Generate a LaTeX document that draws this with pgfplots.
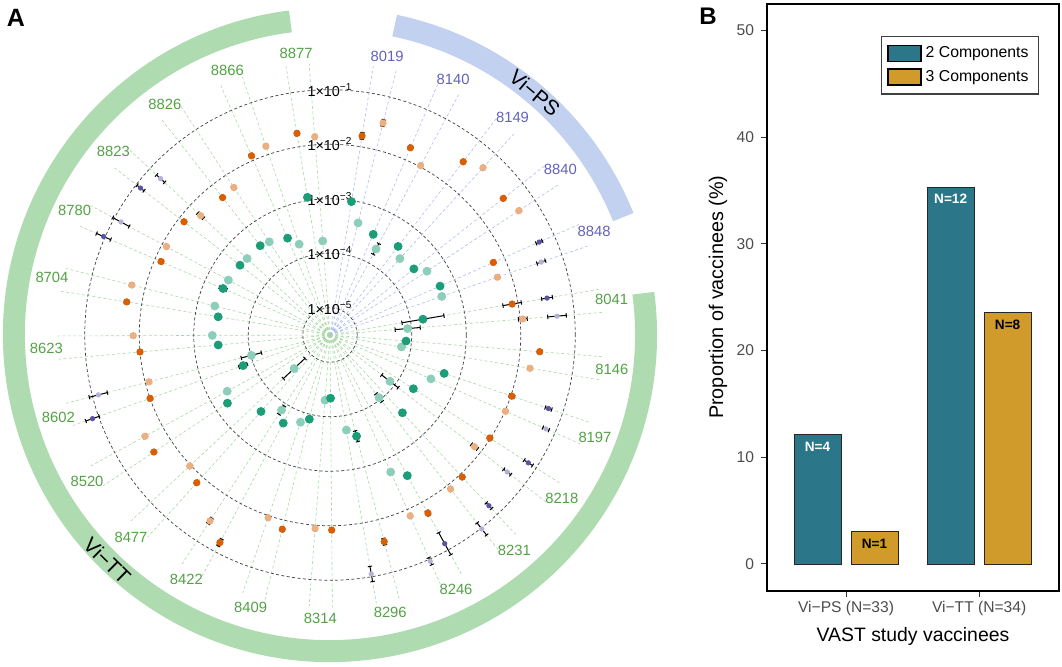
\documentclass[border=0pt]{standalone}
\usepackage{fontspec}
\setmainfont{Liberation Sans}
\usepackage{pgfplots}
\usepackage{pgfplotstable}
\pgfplotsset{compat=1.18}
\usepgfplotslibrary{polar}
\usetikzlibrary{arrows.meta}

\definecolor{grnD}{HTML}{1B9E77}
\definecolor{grnL}{HTML}{8DCEBB}
\definecolor{orD}{HTML}{D95F02}
\definecolor{orL}{HTML}{ECAF80}
\definecolor{puD}{HTML}{5A55A0}
\definecolor{puL}{HTML}{B4B1D6}
\definecolor{spTT}{HTML}{A8D7A4}
\definecolor{spPS}{HTML}{AEBDE9}
\definecolor{labTT}{HTML}{52A145}
\definecolor{labPS}{HTML}{6262B8}
\definecolor{arcTT}{HTML}{AEDBB0}
\definecolor{arcPS}{HTML}{C1D1EF}
\definecolor{barA}{HTML}{2B7689}
\definecolor{barB}{HTML}{D19B2B}

% log10 of each value; A = first spoke of a subject, B = second spoke
\pgfplotstableread{
id   t       gA     gAe   gB     gBe   oA     oAe   oB     oBe   pA     pAe   pB     pBe
8019 78.4    -3.02  0.05  -3.38  0.05  -1.80  0.07  -1.49  0.07  nan    0     nan    0
8140 64.3    -3.49  0.05  -3.71  0.12  -1.76  0.05  -1.975 0.05  nan    0     nan    0
8149 50.0    -3.45  0.05  -3.60  0.05  -1.49  0.05  -1.34  0.05  nan    0     nan    0
8840 35.8    -3.54  0.05  -3.37  0.05  -1.45  0.05  -1.35  0.05  nan    0     nan    0
8848 21.5    -3.29  0.05  -3.33  0.05  -2.22  0.05  -2.25  0.05  -1.30  0.07  -1.40  0.09
}\tabPS

\pgfplotstableread{
id   t       gA     gAe   gB     gBe   oA     oAe   oB     oBe   pA     pAe   pB     pBe
8041 7.2     -3.77  0.40  -4.07  0.24  -2.11  0.18  -1.95  0.09  -1.46  0.11  -1.32  0.18
8146 -7.0    -4.10  0.05  -4.17  0.05  -1.64  0.05  -1.78  0.05  nan    0     nan    0
8197 -21.05  -3.29  0.05  -3.48  0.05  -1.98  0.06  -1.99  0.05  -1.27  0.07  -1.18  0.07
8218 -35.25  -3.68  0.05  -4.11  0.20  -2.01  0.05  -2.15  0.08  -1.17  0.10  -1.39  0.09
8231 -49.5   -3.55  0.05  -4.04  0.10  -1.94  0.05  -1.91  0.05  -1.22  0.08  -0.98  0.15
8246 -63.65  -2.555 0.05  -2.75  0.05  -1.77  0.06  -1.87  0.05  -1.13  0.24  -0.96  0.08
8296 -77.75  -3.58  0.11  -3.73  0.05  -1.58  0.07  nan    0     nan    0     -1.05  0.15
8314 -91.95  -4.34  0.05  -4.30  0.05  -1.92  0.05  -1.94  0.05  nan    0     nan    0
8409 -106.25 -3.91  0.05  -3.81  0.05  -1.83  0.05  -1.96  0.05  nan    0     nan    0
8422 -120.4  -3.67  0.05  -3.86  0.10  -1.19  0.08  -1.44  0.07  nan    0     nan    0
8477 -134.5  -3.61  0.05  -4.60  0.28  -1.85  0.05  -1.98  0.05  nan    0     nan    0
8520 -148.85 -3.24  0.05  -3.35  0.05  -1.62  0.05  -1.63  0.05  nan    0     nan    0
8602 -163.05 -3.81  0.09  -4.01  0.20  -2.00  0.05  -2.07  0.05  -0.88  0.14  -1.11  0.18
8623 -177.35 -3.44  0.05  -3.34  0.05  -2.00  0.05  -1.89  0.05  nan    0     nan    0
8704 168.3   -3.42  0.05  -3.32  0.05  -1.72  0.05  -1.75  0.05  nan    0     nan    0
8780 154.05  -3.36  0.08  -3.38  0.05  -2.12  0.05  -2.09  0.05  -0.97  0.15  -1.14  0.18
8823 139.75  -3.41  0.05  -3.43  0.05  -2.11  0.05  -2.27  0.08  -1.10  0.09  -1.27  0.11
8826 125.55  -3.42  0.05  -3.46  0.05  -2.30  0.05  -2.27  0.05  nan    0     nan    0
8866 111.2   -3.56  0.05  -3.74  0.05  -1.91  0.05  -1.84  0.05  nan    0     nan    0
8877 96.85   -2.94  0.05  -3.77  0.05  -1.75  0.05  -1.85  0.05  nan    0     nan    0
}\tabTT

\pgfplotsset{
  dot/.style n args={2}{only marks, mark=*, mark size=#2, color=#1},
  bar/.style={mark=none, draw=#1, line width=0.5pt, {Bar[width=2.2pt]}-{Bar[width=2.2pt]}},
}

% point, then its radial error bar (quiver from value-err to value+err)
\newcommand\comp[5]{% table, angle shift, column, colour, size, bar colour in \barc
  \addplot[dot={#4}{#5}] table[x expr=\thisrow{t}+#2, y expr=\thisrow{#3}+5.5]{#1};
  \addplot[bar=\barc, quiver={u=0, v=2*\thisrow{#3e}}]
    table[x expr=\thisrow{t}+#2, y expr=\thisrow{#3}+5.5-\thisrow{#3e}]{#1};
}
\newcommand\subjects[1]{%
  \def\barc{black!50}\comp{#1}{-2.45}{gB}{grnL}{2.0pt}
  \def\barc{black}\comp{#1}{2.45}{gA}{grnD}{2.0pt}
  \def\barc{black!50}\comp{#1}{-2.45}{oB}{orL}{1.6pt}
  \def\barc{black}\comp{#1}{2.45}{oA}{orD}{1.6pt}
  \def\barc{black!50}\comp{#1}{-2.45}{pB}{puL}{1.1pt}
  \def\barc{black}\comp{#1}{2.45}{pA}{puD}{1.1pt}
}

\begin{document}
\begin{tikzpicture}
\path[use as bounding box] (0,0) rectangle (531pt,333pt);

% ---------- panel A ----------
\begin{polaraxis}[
  at={(165pt,165.5pt)}, anchor=origin,
  scale only axis, width=272.5pt, height=272.5pt,
  ymin=0, ymax=5,
  % spokes: two per subject (Vi-TT as major, Vi-PS as minor grid)
  xtick={9.65,4.75,355.45,350.55,341.4,336.5,327.2,322.3,312.95,308.05,298.8,293.9,
    284.7,279.8,270.5,265.6,256.2,251.3,242.05,237.15,227.95,223.05,213.6,208.7,
    199.4,194.5,185.1,180.2,170.75,165.85,156.5,151.6,142.2,137.3,128.0,123.1,
    113.65,108.75,99.3,94.4},
  minor xtick={80.85,75.95,66.75,61.85,52.45,47.55,38.25,33.35,23.95,19.05},
  xticklabels={}, xmajorgrids, xminorgrids,
  x grid style={spTT, line width=0.3pt, dash pattern=on 1.5pt off 1.2pt},
  minor x grid style={spPS, line width=0.3pt, dash pattern=on 1.5pt off 1.2pt},
  ytick={0.5,1.5,2.5,3.5,4.5}, yticklabels={}, yminorgrids=false,
  ymajorgrids, y grid style={black!75, line width=0.35pt, dash pattern=on 1.5pt off 1.2pt},
  axis line style={draw=none}, major tick style={draw=none}, minor tick style={draw=none},
  clip=false,
]
% subject labels
\addplot[draw=none, mark=none, nodes near coords, point meta=explicit symbolic,
  every node near coord/.style={anchor=center, text=labTT, font=\fontsize{7.4}{8}\selectfont}]
  table[x=t, y expr=5.21, meta=id]{\tabTT};
\addplot[draw=none, mark=none, nodes near coords, point meta=explicit symbolic,
  every node near coord/.style={anchor=center, text=labPS, font=\fontsize{7.4}{8}\selectfont}]
  table[x=t, y expr=5.21, meta=id]{\tabPS};
% points
\subjects{\tabPS}
\subjects{\tabTT}
% ring labels
\node[font=\fontsize{7.2}{8}\selectfont, inner sep=0pt] at (axis cs:90,0.5) {1×10\textsuperscript{−5}};
\node[font=\fontsize{7.2}{8}\selectfont, inner sep=0pt] at (axis cs:90,1.5) {1×10\textsuperscript{−4}};
\node[font=\fontsize{7.2}{8}\selectfont, inner sep=0pt] at (axis cs:90,2.5) {1×10\textsuperscript{−3}};
\node[font=\fontsize{7.2}{8}\selectfont, inner sep=0pt] at (axis cs:90,3.5) {1×10\textsuperscript{−2}};
\node[font=\fontsize{7.2}{8}\selectfont, inner sep=0pt] at (axis cs:90,4.5) {1×10\textsuperscript{−1}};
% group arcs
\draw[arcTT, line width=11pt] (axis cs:97.2,5.8) arc[start angle=97.2, end angle=367.6, radius=158.05pt];
\draw[arcPS, line width=11pt] (axis cs:21.9,5.8) arc[start angle=21.9, end angle=78.2, radius=158.05pt];
\node[font=\fontsize{10.5}{12}\selectfont, rotate=-40.2] at (axis cs:49.8,5.82) {Vi−PS};
\node[font=\fontsize{10.5}{12}\selectfont, rotate=-44.6] at (axis cs:225.4,5.82) {Vi−TT};
\end{polaraxis}

% ---------- panel B ----------
\begin{axis}[
  at={(383.5pt,37.7pt)}, anchor=south west,
  scale only axis, width=146pt, height=293.4pt,
  xmin=0.406, xmax=2.6, ymin=-2.5, ymax=52.5,
  xtick={1,2}, xticklabels={Vi−PS (N=33), Vi−TT (N=34)},
  ytick={0,10,20,30,40,50},
  tick pos=left, tick align=outside, major tick length=3pt,
  tick style={black!80, line width=0.5pt},
  axis line style={line width=1pt},
  /pgf/number format/assume math mode=true,
  ticklabel style={font=\fontsize{7.8}{9}\selectfont, text=black!70},
  xticklabel style={yshift=1.3pt},
  xlabel={VAST study vaccinees}, ylabel={Proportion of vaccinees (\%)},
  xlabel style={font=\fontsize{9.7}{11}\selectfont, at={(axis description cs:0.5,-0.0774)}, anchor=center},
  ylabel style={font=\fontsize{9.9}{11}\selectfont, at={(axis description cs:-0.168,0.5)}, anchor=center},
  legend style={at={(0.932,0.945)}, anchor=north east, draw=black!75, line width=0.7pt,
    font=\fontsize{7.9}{8}\selectfont, row sep=0.6pt, inner xsep=3pt, inner ysep=3pt},
  legend cell align=left,
  legend image code/.code={\draw[#1, draw=black, line width=0.6pt] (0pt,-4pt) rectangle (16.5pt,4pt);},
]
\addplot[ybar, bar width=0.353, fill=barA, draw=black!85, line width=0.4pt,
  nodes near coords, point meta=explicit symbolic,
  every node near coord/.style={anchor=north, yshift=0pt, text=white, font=\bfseries\fontsize{6.8}{7}\selectfont}]
  coordinates {(0.786,12.12)[N=4] (1.786,35.29)[N=12]};
\addlegendentry{2 Components}
\addplot[ybar, bar width=0.353, fill=barB, draw=black!85, line width=0.4pt,
  nodes near coords, point meta=explicit symbolic,
  every node near coord/.style={anchor=north, yshift=0pt, text=black, font=\bfseries\fontsize{6.8}{7}\selectfont}]
  coordinates {(1.214,3.03)[N=1] (2.214,23.53)[N=8]};
\addlegendentry{3 Components}
\end{axis}

\node[font=\bfseries\fontsize{12.5}{14}\selectfont] at (8pt,324pt) {A};
\node[font=\bfseries\fontsize{12}{14}\selectfont] at (354pt,325pt) {B};
\end{tikzpicture}
\end{document}
